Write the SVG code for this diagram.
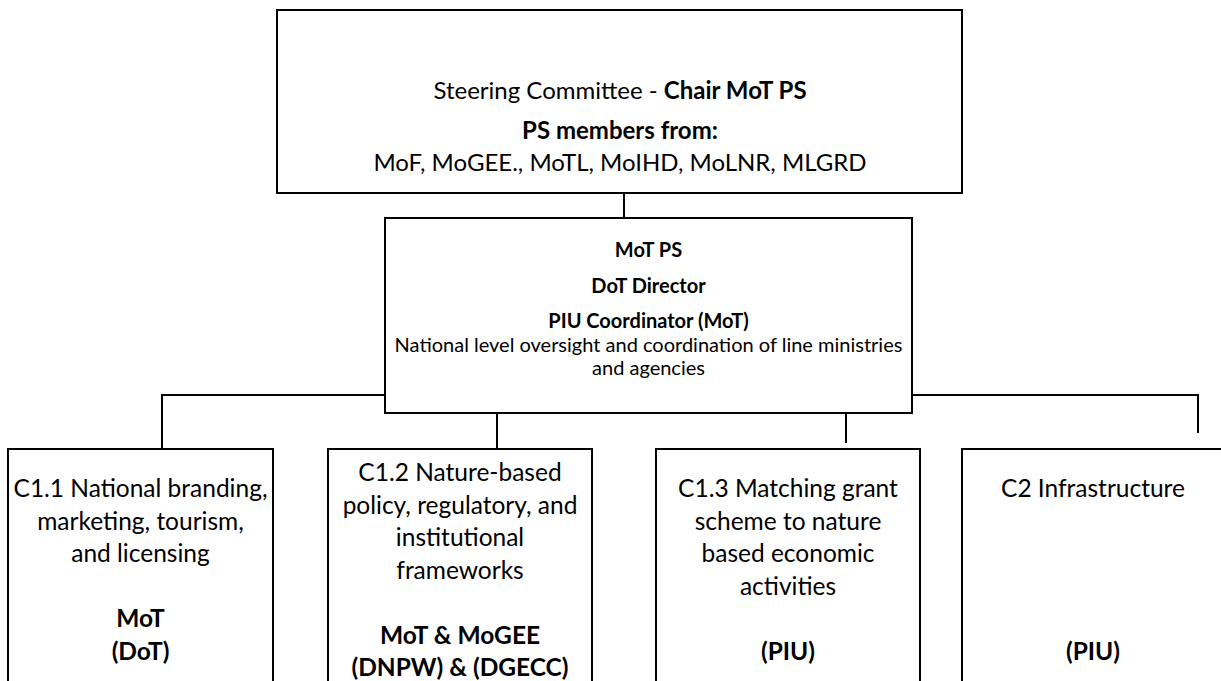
<svg xmlns="http://www.w3.org/2000/svg" width="1221" height="681" viewBox="0 0 1221 681">
  <style>
    .box { fill: #ffffff; stroke: #000000; stroke-width: 2; }
    .link { fill: none; stroke: #000000; stroke-width: 2; }
    text { font-family: Lato, "Open Sans", "Liberation Sans", sans-serif; fill: #000000; text-anchor: middle; }
    .t1 { font-size: 24px; }
    .t2 { font-size: 20px; }
    .t3 { font-size: 24.5px; }
    .b { font-weight: bold; }
  </style>
  <rect width="1221" height="681" fill="#ffffff"/>

  <!-- connectors -->
  <g id="connectors">
    <line class="link" x1="624" y1="193" x2="624" y2="218"/>
    <polyline class="link" points="385,395 162,395 162,449"/>
    <polyline class="link" points="912,395 1198,395 1198,433"/>
    <line class="link" x1="497" y1="413" x2="497" y2="449"/>
    <line class="link" x1="846" y1="413" x2="846" y2="443"/>
  </g>

  <!-- steering committee -->
  <g id="steering-committee">
    <rect class="box" x="277" y="10" width="685" height="183"/>
    <text class="t1" x="620" y="99">Steering Committee - <tspan class="b">Chair MoT PS</tspan></text>
    <text class="t1 b" x="620" y="139">PS members from:</text>
    <text class="t1" x="620" y="171">MoF, MoGEE., MoTL, MoIHD, MoLNR, MLGRD</text>
  </g>

  <!-- project management -->
  <g id="mot-ps">
    <rect class="box" x="385" y="218" width="527" height="195"/>
    <text class="t2 b" x="648.5" y="257">MoT PS</text>
    <text class="t2 b" x="648.5" y="293">DoT Director</text>
    <text class="t2 b" x="648.5" y="328">PIU Coordinator (MoT)</text>
    <text class="t2" x="648.5" y="352">National level oversight and coordination of line ministries</text>
    <text class="t2" x="648.5" y="375">and agencies</text>
  </g>

  <!-- components -->
  <g id="c1-1">
    <rect class="box" x="8" y="449" width="265" height="260"/>
    <text class="t3" x="140.5" y="497">C1.1 National branding,</text>
    <text class="t3" x="140.5" y="529.5">marketing, tourism,</text>
    <text class="t3" x="140.5" y="562">and licensing</text>
    <text class="t3 b" x="140.5" y="627">MoT</text>
    <text class="t3 b" x="140.5" y="659.5">(DoT)</text>
  </g>

  <g id="c1-2">
    <rect class="box" x="328" y="449" width="264" height="260"/>
    <text class="t3" x="460" y="481">C1.2 Nature-based</text>
    <text class="t3" x="460" y="513.5">policy, regulatory, and</text>
    <text class="t3" x="460" y="546">institutional</text>
    <text class="t3" x="460" y="578.5">frameworks</text>
    <text class="t3 b" x="460" y="643.5">MoT &amp; MoGEE</text>
    <text class="t3 b" x="460" y="676">(DNPW) &amp; (DGECC)</text>
  </g>

  <g id="c1-3">
    <rect class="box" x="656" y="449" width="264" height="260"/>
    <text class="t3" x="788" y="497">C1.3 Matching grant</text>
    <text class="t3" x="788" y="529.5">scheme to nature</text>
    <text class="t3" x="788" y="562">based economic</text>
    <text class="t3" x="788" y="594.5">activities</text>
    <text class="t3 b" x="788" y="659.5">(PIU)</text>
  </g>

  <g id="c2">
    <rect class="box" x="962" y="449" width="262" height="260"/>
    <text class="t3" x="1093" y="497">C2 Infrastructure</text>
    <text class="t3 b" x="1093" y="659.5">(PIU)</text>
  </g>
</svg>
